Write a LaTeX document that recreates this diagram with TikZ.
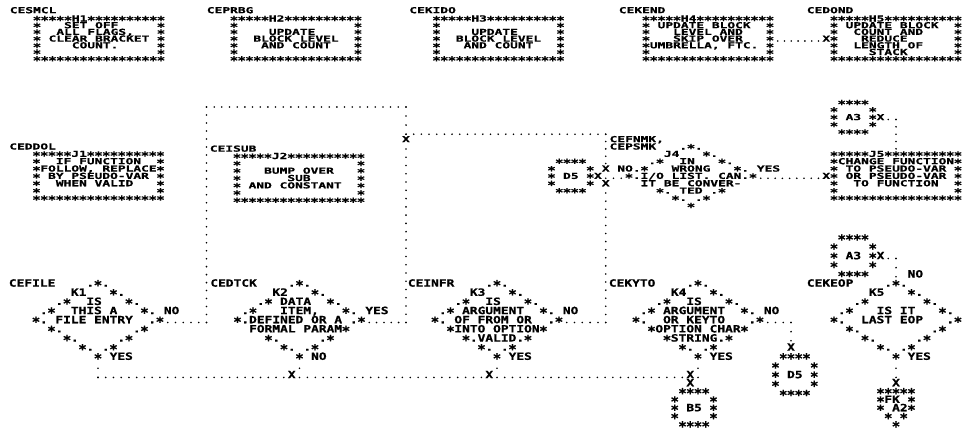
\documentclass[tikz,border=0pt]{standalone}
\usepackage{fontspec}
\usepackage{graphicx}
\newfontfamily\pfA[FakeStretch=1.551,FakeBold=0.8]{DejaVu Sans Mono}
\newfontfamily\pfB[FakeStretch=1.287,FakeBold=0.8]{DejaVu Sans Mono}
\newcommand\fA{\pfA\bfseries\fontsize{8.3pt}{8.3pt}\selectfont}
\newcommand\fB{\pfB\bfseries\fontsize{10pt}{10pt}\selectfont}
% printer asterisk: a bigger star, centred on the letters, one cell wide
\newcommand\st{\setbox0=\hbox{0}\hbox to\wd0{\hss\raisebox{-0.34em}[0.65em][0pt]{\scalebox{1.1}[1.35]{*}}\hss}}
\catcode`§=\active
\def§{\st}
\newcommand\bl{§~~~~~~~~~~~~~~~§}
\newcommand\bt{§§§§§§§§§§§§§§§§§}
\newcommand\tp[1]{§§§§§#1§§§§§§§§§§}
\tikzset{
 txtA/.style={anchor=base west,inner sep=0pt,outer sep=0pt,font=\fA,text height=4.5pt,text depth=1pt},
 txtB/.style={anchor=base west,inner sep=0pt,outer sep=0pt,font=\fB,text height=5.5pt,text depth=1.2pt},
 dotline/.style={line width=1.8pt,line cap=round,dash pattern=on 0pt off #1},
}
% block of printed lines: items are <first column>/<text>
\newcommand\blkA[5]{\foreach \c/\l [count=\i from 0] in {#5}{\node[txtA] (#1-\i) at ({#2-3.875+\c*7.75},{#3+\i*#4+3.0}) {\l};}}
\newcommand\blkB[5]{\foreach \c/\l [count=\i from 0] in {#5}{\node[txtB] (#1-\i) at ({#2-3.875+\c*7.75},{#3+\i*#4+3.65}) {\l};}}
\newcommand\tA[4]{\node[txtA] (#1) at ({#2-3.875},{#3+3.0}) {#4};}
\newcommand\tB[4]{\node[txtB] (#1) at ({#2-3.875},{#3+3.65}) {#4};}
\begin{document}
\begin{tikzpicture}[x=1pt,y=-1pt]
\def~{\hphantom{0}}
\useasboundingbox (0,0) rectangle (963,434);
\fill[white] (0,0) rectangle (963,434);

% ---------------- H band ----------------
\tA{lH1}{13.75}{10.2}{CESMCL}
\blkA{H1}{37}{18.5}{6.7}{0/{\tp{H1}},0/{§~~~SET~OFF~~~~~§},0/{§~~ALL~FLAGS,~~~§},0/{§~CLEAR~BRACKET~§},0/{§~~~~COUNT.~~~~~§},0/{\bl},0/{\bt}}
\tA{lH2}{210.75}{10.2}{CEPRBG}
\blkA{H2}{234}{18.5}{6.7}{0/{\tp{H2}},0/{\bl},0/{§~~~~UPDATE~~~~~§},0/{§~~BLOCK~LEVEL~~§},0/{§~~~AND~COUNT~~~§},0/{\bl},0/{\bt}}
\tA{lH3}{413.25}{10.2}{CEKIDO}
\blkA{H3}{436.5}{18.5}{6.7}{0/{\tp{H3}},0/{\bl},0/{§~~~~UPDATE~~~~~§},0/{§~~BLOCK~LEVEL~~§},0/{§~~~AND~COUNT~~~§},0/{\bl},0/{\bt}}
\tA{lH4}{622.75}{10.2}{CEKEND}
\blkA{H4}{646}{18.5}{6.7}{0/{\tp{H4}},0/{§~UPDATE~BLOCK~~§},0/{§~~~LEVEL~AND~~~§},0/{§~~~SKIP~OVER~~~§},0/{§UMBRELLA,~FTC.~§},0/{\bl},0/{\bt}}
\tA{lH5}{810.75}{10.2}{CEDOND}
\blkA{H5}{834}{18.5}{6.7}{0/{\tp{H5}},0/{§~UPDATE~BLOCK~~§},0/{§~~COUNT~AND~~~~§},0/{§~~~REDUCE~~~~~~§},0/{§~~LENGTH~OF~~~~§},0/{§~~~~STACK~~~~~~§},0/{\bt}}
\tA{xH5}{826.25}{38.6}{X}

% ---------------- J band ----------------
\tA{lJ1}{13.25}{146.5}{CEDDOL}
\blkA{J1}{36.5}{153.85}{7.35}{0/{\tp{J1}},0/{§~~IF~FUNCTION~~§},0/{§FOLLOW,~REPLACE§},0/{§~BY~PSEUDO-VAR~§},0/{§~~WHEN~VALID~~~§},0/{\bl},0/{\bt}}
\tA{lJ2}{213.75}{148.65}{CEISUB}
\blkA{J2}{237}{156}{7.35}{0/{\tp{J2}},0/{\bl},0/{§~~~BUMP~OVER~~~§},0/{§~~~~~~SUB~~~~~~§},0/{§~AND~CONSTANT~~§},0/{\bl},0/{\bt}}
\tA{lJ4a}{613.5}{139.15}{CEFNMK,}
\tA{lJ4b}{613.5}{146.5}{CEPSMK}
\blkA{J4}{629}{146.5}{7.35}{7/{.§.},5/{J4~~~§.},3/{.§~~IN~~~§.},1/{.§~~~WRONG~~~§.~YES},0/{§.I/O~LIST.~CAN.§},2/{IT~BE~CONVER-},4/{§.~TED~.§},6/{§.~.§},8/{§}}
\tA{nJ4}{621.25}{168.55}{NO}
\tA{xJ4a}{605.75}{168.55}{X}
\tA{xJ4b}{605.75}{183.25}{X}
\tA{xD5a}{598}{175.9}{X}
\blkA{D5a}{551.5}{161.2}{7.35}{1/{§§§§},0/{§~~~~§},0/{§~D5~§},0/{§~~~~§},1/{§§§§}}
\blkA{J5}{834}{153.85}{7.35}{0/{\tp{J5}},0/{§CHANGE~FUNCTION§},0/{§~TO~PSEUDO-VAR~§},0/{§~OR~PSEUDO-VAR~§},0/{§~~TO~FUNCTION~~§},0/{\bl},0/{\bt}}
\tA{xJ5}{826.25}{175.9}{X}
\blkA{A3a}{834}{102.4}{7.35}{1/{§§§§},0/{§~~~~§},0/{§~A3~§},0/{§~~~~§},1/{§§§§}}
\tA{xA3a}{880.5}{117.1}{X}
\tA{x406}{406}{139.15}{X}

% ---------------- K band ----------------
\tB{lK1}{12.75}{283}{CEFILE}
\blkB{K1}{36}{283}{9.15}{7/{.§.},5/{K1~~~§.},3/{.§~~IS~~~§.},1/{.§~~THIS~A~~~§.~NO},0/{§.~FILE~ENTRY~~.§},2/{§.~~~~~~~~~.§},4/{§.~~~~~.§},6/{§.~.§},8/{§~YES}}
\tB{lK2}{214.25}{283}{CEDTCK}
\blkB{K2}{237.5}{283}{9.15}{7/{.§.},5/{K2~~~§.},3/{.§~DATA~~§.},1/{.§~~~ITEM,~~~§.~YES},0/{§.DEFINED~OR~A~.§},2/{FORMAL~PARAM§},4/{§.~~~~~.§},6/{§.~.§},8/{§~NO}}
\tB{lK3}{411.75}{283}{CEINFR}
\blkB{K3}{435}{283}{9.15}{7/{.§.},5/{K3~~~§.},3/{.§~~IS~~~§.},1/{.§~ARGUMENT~~§.~NO},0/{§.~OF~FROM~OR~~.§},2/{§INTO~OPTION§},4/{§.VALID.§},6/{§.~.§},8/{§~YES}}
\tB{lK4}{612.75}{283}{CEKYTO}
\blkB{K4}{636}{283}{9.15}{7/{.§.},5/{K4~~~§.},3/{.§~~IS~~~§.},1/{.§~ARGUMENT~~§.~NO},0/{§.~~OR~KEYTO~~~.§},2/{§OPTION~CHAR§},4/{§STRING.§},6/{§.~.§},8/{§~YES}}
\tB{lK5}{810.75}{283}{CEKEOP}
\blkB{K5}{834}{283}{9.15}{7/{.§.},5/{K5~~~§.},3/{.§~~~~~~~§.},1/{.§~~~IS~IT~~~§.},0/{§.~~LAST~EOP~~~.§},2/{§.~~~~~~~~~.§},4/{§.~~~~~.§},6/{§.~.§},8/{§~YES}}
\blkB{A3b}{834}{237.25}{9.15}{1/{§§§§},0/{§~~~~§},0/{§~A3~§},0/{§~~~~§},1/{§§§§}}
\tB{xA3b}{880.5}{255.55}{X}
\tB{nK5}{911.5}{273.85}{NO}
\tB{xD5b}{791}{347.05}{X}
\blkB{D5b}{775.5}{356.2}{9.15}{1/{§§§§},0/{§~~~~§},0/{§~D5~§},0/{§~~~~§},1/{§§§§}}
\tB{xK2}{291.75}{374.5}{X}
\tB{xK3}{489.25}{374.5}{X}
\tB{xK4}{690.25}{374.5}{X}
\tB{xB5}{690.25}{382.6}{X}
\blkB{B5}{674.75}{391}{8.3}{1/{§§§§},0/{§~~~~§},0/{§~B5~§},0/{§~~~~§},1/{§§§§}}
\tB{xFK}{896}{382.6}{X}
\blkB{FK}{880.5}{391}{8.3}{0/{§§§§§},0/{§FK~§},0/{§~A2§},1/{§~§},2/{§}}

% ---------------- connectors ----------------
\coordinate (h4o) at (777.75,41);
\coordinate (h5i) at (818.5,41);
\draw[dotline=6.78pt] (h4o) -- (h5i);

\coordinate (k1no) at (167.75,322.5);
\coordinate (c1) at (206.5,322.5);
\coordinate (c2) at (206.5,107);
\coordinate (c3) at (406,107);
\coordinate (c4) at (406,134.2);
\coordinate (c5) at (605.75,134.2);
\coordinate (c6) at (605.75,163.6);
\draw[dotline=7.74pt] (k1no) -- (c1);
\draw[dotline=7.98pt] (c1) -- (c2);
\draw[dotline=7.67pt] (c2) -- (c3);
\draw[dotline=9.05pt] (c3) -- (c4);
\draw[dotline=7.68pt] (c4) -- (c5);
\draw[dotline=7.34pt] (c5) -- (c6);

\coordinate (k2yes) at (369.25,322.5);
\coordinate (c7) at (406,322.5);
\coordinate (c8) at (406,148.9);
\draw[dotline=7.34pt] (k2yes) -- (c7);
\draw[dotline=8.26pt] (c7) -- (c8);

\coordinate (k3no) at (566.75,322.5);
\coordinate (c9) at (605.75,322.5);
\coordinate (c10) at (605.75,193);
\draw[dotline=7.79pt] (k3no) -- (c9);
\draw[dotline=8.09pt] (c9) -- (c10);

\coordinate (j4no) at (621.25,178.3);
\coordinate (c11) at (605.75,178.3);
\draw[dotline=7.74pt] (j4no) -- (c11);

\coordinate (j4yes) at (760.75,178.3);
\coordinate (j5in) at (818.5,178.3);
\draw[dotline=7.21pt] (j4yes) -- (j5in);

\coordinate (a3ao) at (888.25,119.5);
\coordinate (c12) at (896,119.5);
\coordinate (c13) at (896,148.9);
\draw[dotline=7.74pt] (a3ao) -- (c12);
\draw[dotline=7.34pt] (c12) -- (c13);

\coordinate (a3bo) at (888.25,258.5);
\coordinate (c14) at (896,258.5);
\coordinate (c15) at (896,276.8);
\draw[dotline=7.74pt] (a3bo) -- (c14);
\draw[dotline=9.14pt] (c14) -- (c15);

\coordinate (k4no) at (767.75,322.5);
\coordinate (c16) at (791,322.5);
\coordinate (c17) at (791,340.8);
\draw[dotline=7.74pt] (k4no) -- (c16);
\draw[dotline=9.14pt] (c16) -- (c17);

\coordinate (k5yes) at (896,368.3);
\coordinate (c18) at (896,377.4);
\draw[dotline=9.09pt] (k5yes) -- (c18);

\coordinate (k1yes) at (98,368.3);
\coordinate (b0) at (98,377.4);
\coordinate (b1) at (284,377.4);
\coordinate (b2) at (299.5,377.4);
\coordinate (b3) at (481.5,377.4);
\coordinate (b4) at (497,377.4);
\coordinate (b5) at (682.5,377.4);
\coordinate (b6) at (698,377.4);
\draw[dotline=9.09pt] (k1yes) -- (b0);
\draw[dotline=7.74pt] (b0) -- (b1);
\draw[dotline=7.91pt] (b2) -- (b3);
\draw[dotline=7.72pt] (b4) -- (b5);
\coordinate (k2n) at (299.5,368.3);
\coordinate (k3y) at (497,368.3);
\coordinate (k4y) at (698,368.3);
\fill (k2n) circle[radius=0.9];
\fill (k3y) circle[radius=0.9];
\fill (k4y) circle[radius=0.9];
\fill (b6) circle[radius=0.9];
\end{tikzpicture}
\end{document}
